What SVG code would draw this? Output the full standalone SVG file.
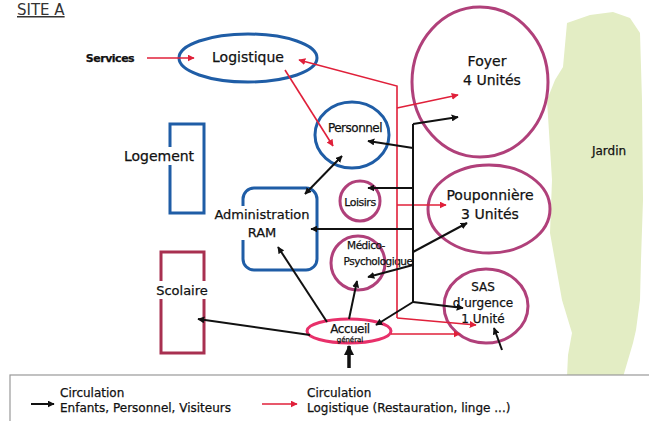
<svg xmlns="http://www.w3.org/2000/svg" width="649" height="421" viewBox="0 0 649 421">
<defs>
<marker id="ab" viewBox="0 0 10 10" refX="9" refY="5" markerWidth="7" markerHeight="7" orient="auto-start-reverse" markerUnits="userSpaceOnUse"><path d="M0,0 L10,5 L0,10 z" fill="#111"/></marker>
<marker id="ar" viewBox="0 0 10 10" refX="9" refY="5" markerWidth="7" markerHeight="7" orient="auto" markerUnits="userSpaceOnUse"><path d="M0,0 L10,5 L0,10 z" fill="#e0203a"/></marker>
<marker id="abig" viewBox="0 0 10 10" refX="9" refY="5" markerWidth="10" markerHeight="10" orient="auto" markerUnits="userSpaceOnUse"><path d="M0,0 L10,5 L0,10 z" fill="#111"/></marker>
</defs>
<style>
text{font-family:"DejaVu Sans","Liberation Sans",sans-serif;fill:#111;text-anchor:middle;stroke:#111;stroke-width:0.25}
.blue{fill:none;stroke:#1f5da6;stroke-width:3}
.mag{fill:none;stroke:#b0407a;stroke-width:3}
.bk{fill:none;stroke:#111;stroke-width:2;marker-end:url(#ab)}
.rd{fill:none;stroke:#e0203a;stroke-width:1.6;marker-end:url(#ar)}
.bl{fill:none;stroke:#111;stroke-width:2}
.t14{font-size:14px}
.t13{font-size:13px}
.t12{font-size:12px}
.t11{font-size:11px}
</style>
<rect width="649" height="421" fill="#fff"/>
<text x="17" y="15" style="font-size:15px;text-anchor:start;fill:#333;stroke:none" text-decoration="underline">SITE A</text>

<g id="jardin">
<path d="M567,23 L590,15 L613,12 L630,18 L640,33 L642,100 L643,200 L641,260 L640,300 L636,330 L633,343 L628,360 L623,377 L595,378 L567,377 L568,355 L572,333 L562,300 L550,233 L552,180 L547,100 L555,80 L563,67 L565,45 Z" fill="#e3edc4"/>
<text x="609" y="155" class="t12">Jardin</text>
</g>

<g id="logistique">
<ellipse cx="248" cy="58" rx="69" ry="24" class="blue"/>
<text x="248" y="62" class="t14">Logistique</text>
</g>
<g id="services"><text x="110" y="62" class="t11" style="letter-spacing:-0.5px;font-weight:bold">Services</text></g>

<g id="logement">
<rect x="170" y="124" width="34" height="89" class="blue"/>
<rect x="120" y="147" width="78" height="18" fill="#fff"/>
<text x="159" y="161" class="t14">Logement</text>
</g>

<g id="scolaire">
<rect x="161" y="252" width="43" height="101" fill="none" stroke="#a83050" stroke-width="3"/>
<rect x="152" y="281" width="60" height="18" fill="#fff"/>
<text x="182" y="295" class="t13">Scolaire</text>
</g>

<g id="administration">
<rect x="243" y="188" width="74" height="82" rx="11" class="blue"/>
<rect x="210" y="206" width="103" height="34" fill="#fff"/>
<text x="262" y="219" class="t13">Administration</text>
<text x="262" y="237" class="t13">RAM</text>
</g>

<g id="personnel">
<ellipse cx="352" cy="135" rx="37" ry="33" class="blue"/>
<text x="355" y="132" class="t12" style="letter-spacing:-0.5px">Personnel</text>
</g>

<g id="loisirs">
<circle cx="360" cy="201" r="20" class="mag"/>
<text x="360" y="206" class="t11" style="letter-spacing:-0.5px">Loisirs</text>
</g>

<g id="medico">
<circle cx="358" cy="263" r="27" class="mag"/>
<text x="366" y="249" style="font-size:10.5px;letter-spacing:-0.5px">Médico-</text>
<text x="378" y="265" style="font-size:10.5px;letter-spacing:-0.5px">Psychologique</text>
</g>

<g id="foyer">
<ellipse cx="480" cy="82" rx="68" ry="75" class="mag"/>
<text x="487" y="66" class="t14">Foyer</text>
<text x="492" y="85" class="t14">4 Unités</text>
</g>

<g id="pouponniere">
<ellipse cx="489" cy="209" rx="61" ry="44" class="mag"/>
<text x="490" y="200" class="t14">Pouponnière</text>
<text x="490" y="219" class="t14">3 Unités</text>
</g>

<g id="sas">
<ellipse cx="486" cy="306" rx="42" ry="37" class="mag"/>
<text x="483" y="291" class="t12">SAS</text>
<text x="483" y="307" class="t12">d’urgence</text>
<text x="483" y="323" class="t12">1 Unité</text>
</g>

<g id="accueil">
<ellipse cx="349" cy="331" rx="42" ry="12" fill="none" stroke="#e8306a" stroke-width="3"/>
<text x="350" y="333" class="t12" style="letter-spacing:-0.5px">Accueil</text>
<text x="350" y="342" style="font-size:7px">général</text>
</g>

<g id="connectors">
<line x1="147" y1="58" x2="194" y2="58" class="rd"/>
<polyline points="397,318 397,86 299,60" class="rd"/>
<line x1="285" y1="70" x2="333" y2="146" class="rd"/>
<line x1="397" y1="108" x2="458" y2="95" class="rd"/>
<line x1="397" y1="205" x2="446" y2="205" class="rd"/>
<polyline points="397,318 476,325" class="rd"/>
<line x1="391" y1="334" x2="460" y2="334" class="rd"/>
<line x1="413" y1="124" x2="413" y2="302" class="bl"/>
<line x1="413" y1="124" x2="458" y2="117" class="bk"/>
<line x1="413" y1="148" x2="368" y2="141" class="bk"/>
<line x1="413" y1="188" x2="368" y2="188" class="bk"/>
<line x1="413" y1="229" x2="311" y2="229" class="bk"/>
<line x1="413" y1="252" x2="467" y2="223" class="bk"/>
<line x1="413" y1="265" x2="368" y2="277" class="bk"/>
<line x1="413" y1="302" x2="463" y2="308" class="bk"/>
<line x1="413" y1="302" x2="376" y2="325" class="bk"/>
<line x1="342" y1="156" x2="305" y2="194" class="bk" style="marker-start:url(#ab)"/>
<line x1="327" y1="322" x2="278" y2="247" class="bk"/>
<line x1="349" y1="319" x2="357" y2="281" class="bk"/>
<line x1="310" y1="335" x2="198" y2="319" class="bk"/>
<line x1="349" y1="368" x2="349" y2="346" stroke="#111" stroke-width="3.5" marker-end="url(#abig)"/>
<line x1="502" y1="350" x2="494" y2="328" class="bk"/>
</g>

<g id="legend">
<rect x="10" y="375" width="650" height="60" fill="#fff" stroke="#999" stroke-width="1.2"/>
<line x1="31" y1="404" x2="54" y2="404" class="bk"/>
<text x="60" y="397" class="t12" style="text-anchor:start">Circulation</text>
<text x="60" y="412" class="t12" style="text-anchor:start">Enfants, Personnel, Visiteurs</text>
<line x1="262" y1="404" x2="297" y2="404" class="rd"/>
<text x="307" y="397" class="t12" style="text-anchor:start">Circulation</text>
<text x="307" y="412" class="t12" style="text-anchor:start">Logistique (Restauration, linge ...)</text>
</g>
</svg>
